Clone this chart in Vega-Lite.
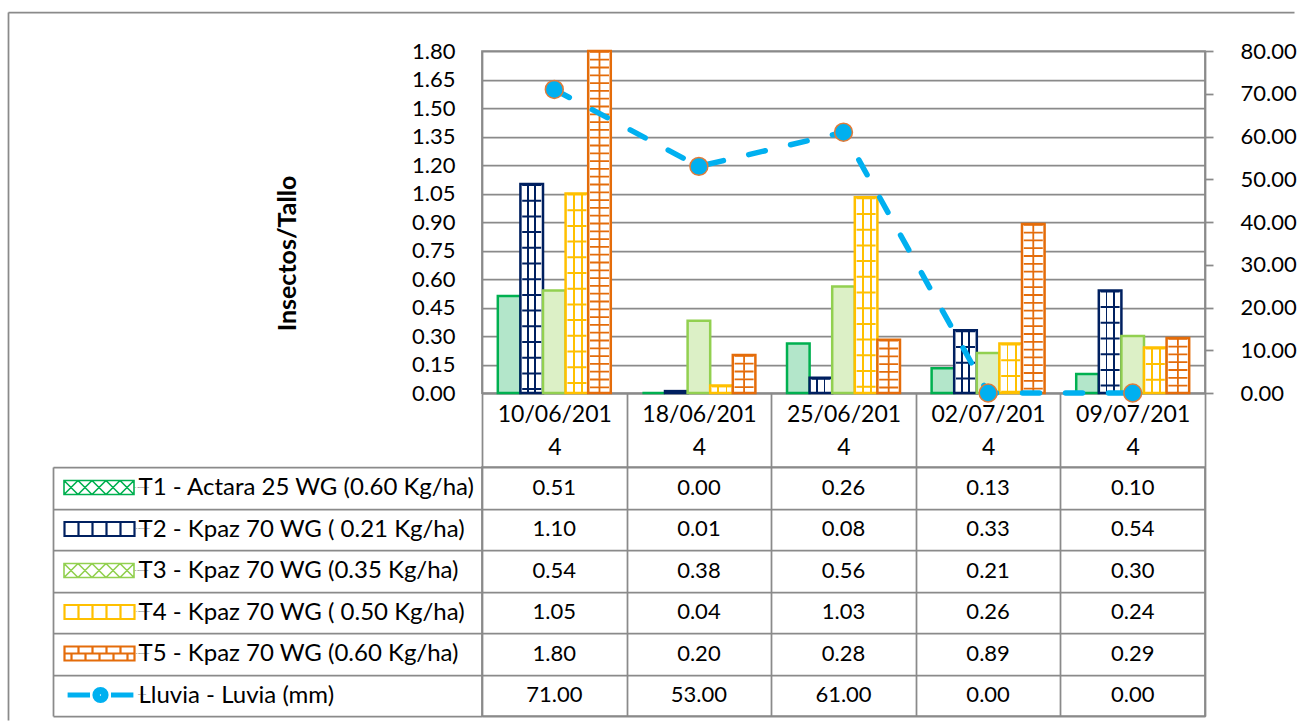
{
  "$schema": "https://vega.github.io/schema/vega-lite/v6.json",
  "background": "white",
  "padding": {"left": 7, "top": 11, "right": 0, "bottom": 0},
  "datasets": {
    "all": [
      {"date": "10/06/2014", "series": "T1 - Actara 25 WG (0.60 Kg/ha)", "value": 0.51},
      {"date": "18/06/2014", "series": "T1 - Actara 25 WG (0.60 Kg/ha)", "value": 0.0},
      {"date": "25/06/2014", "series": "T1 - Actara 25 WG (0.60 Kg/ha)", "value": 0.26},
      {"date": "02/07/2014", "series": "T1 - Actara 25 WG (0.60 Kg/ha)", "value": 0.13},
      {"date": "09/07/2014", "series": "T1 - Actara 25 WG (0.60 Kg/ha)", "value": 0.10},
      {"date": "10/06/2014", "series": "T2 - Kpaz 70 WG ( 0.21 Kg/ha)", "value": 1.10},
      {"date": "18/06/2014", "series": "T2 - Kpaz 70 WG ( 0.21 Kg/ha)", "value": 0.01},
      {"date": "25/06/2014", "series": "T2 - Kpaz 70 WG ( 0.21 Kg/ha)", "value": 0.08},
      {"date": "02/07/2014", "series": "T2 - Kpaz 70 WG ( 0.21 Kg/ha)", "value": 0.33},
      {"date": "09/07/2014", "series": "T2 - Kpaz 70 WG ( 0.21 Kg/ha)", "value": 0.54},
      {"date": "10/06/2014", "series": "T3 - Kpaz 70 WG (0.35 Kg/ha)", "value": 0.54},
      {"date": "18/06/2014", "series": "T3 - Kpaz 70 WG (0.35 Kg/ha)", "value": 0.38},
      {"date": "25/06/2014", "series": "T3 - Kpaz 70 WG (0.35 Kg/ha)", "value": 0.56},
      {"date": "02/07/2014", "series": "T3 - Kpaz 70 WG (0.35 Kg/ha)", "value": 0.21},
      {"date": "09/07/2014", "series": "T3 - Kpaz 70 WG (0.35 Kg/ha)", "value": 0.30},
      {"date": "10/06/2014", "series": "T4 - Kpaz 70 WG ( 0.50 Kg/ha)", "value": 1.05},
      {"date": "18/06/2014", "series": "T4 - Kpaz 70 WG ( 0.50 Kg/ha)", "value": 0.04},
      {"date": "25/06/2014", "series": "T4 - Kpaz 70 WG ( 0.50 Kg/ha)", "value": 1.03},
      {"date": "02/07/2014", "series": "T4 - Kpaz 70 WG ( 0.50 Kg/ha)", "value": 0.26},
      {"date": "09/07/2014", "series": "T4 - Kpaz 70 WG ( 0.50 Kg/ha)", "value": 0.24},
      {"date": "10/06/2014", "series": "T5 - Kpaz 70 WG (0.60 Kg/ha)", "value": 1.80},
      {"date": "18/06/2014", "series": "T5 - Kpaz 70 WG (0.60 Kg/ha)", "value": 0.20},
      {"date": "25/06/2014", "series": "T5 - Kpaz 70 WG (0.60 Kg/ha)", "value": 0.28},
      {"date": "02/07/2014", "series": "T5 - Kpaz 70 WG (0.60 Kg/ha)", "value": 0.89},
      {"date": "09/07/2014", "series": "T5 - Kpaz 70 WG (0.60 Kg/ha)", "value": 0.29},
      {"date": "10/06/2014", "series": "Lluvia - Luvia (mm)", "value": 71.0},
      {"date": "18/06/2014", "series": "Lluvia - Luvia (mm)", "value": 53.0},
      {"date": "25/06/2014", "series": "Lluvia - Luvia (mm)", "value": 61.0},
      {"date": "02/07/2014", "series": "Lluvia - Luvia (mm)", "value": 0.0},
      {"date": "09/07/2014", "series": "Lluvia - Luvia (mm)", "value": 0.0}
    ]
  },
  "config": {
    "font": "Lato",
    "view": {"stroke": "#8a8a8a", "strokeWidth": 1.75},
    "axis": {
      "labelFont": "Lato", "labelFontSize": 22, "labelColor": "#000000",
      "titleFont": "Lato", "titleColor": "#000000",
      "domainColor": "#8a8a8a", "domainWidth": 1.75,
      "tickColor": "#8a8a8a", "tickWidth": 1.75,
      "gridColor": "#8a8a8a", "gridWidth": 1.75, "gridOpacity": 1
    },
    "legend": {
      "orient": "none", "legendX": -419, "title": null, "padding": 0,
      "symbolSize": 4900, "symbolOpacity": 1, "clipHeight": 19,
      "labelExpr": "''", "labelFontSize": 1, "labelOffset": 0, "symbolOffset": 0
    }
  },
  "bounds": "flush",
  "spacing": 74,
  "resolve": {"scale": {"x": "independent", "y": "independent", "stroke": "independent"}},
  "vconcat": [
    {
      "width": 723,
      "height": 342,
      "data": {"name": "all"},
      "layer": [
        {
          "transform": [{"filter": {"field": "series", "oneOf": ["T1 - Actara 25 WG (0.60 Kg/ha)", "T2 - Kpaz 70 WG ( 0.21 Kg/ha)", "T3 - Kpaz 70 WG (0.35 Kg/ha)", "T4 - Kpaz 70 WG ( 0.50 Kg/ha)", "T5 - Kpaz 70 WG (0.60 Kg/ha)"]}}],
          "encoding": {
            "x": {
              "field": "date", "type": "nominal",
              "scale": {"domain": ["10/06/2014", "18/06/2014", "25/06/2014", "02/07/2014", "09/07/2014"], "paddingInner": 0, "paddingOuter": 0},
              "axis": {
                "title": null, "labelAngle": 0, "tickBand": "extent", "ticks": true, "tickSize": 74,
                "labelPadding": -64, "labelBaseline": "top", "labelLineHeight": 33, "labelFontSize": 23,
                "labelExpr": "[slice(datum.label, 0, 9), slice(datum.label, 9)]",
                "grid": false, "domain": true
              }
            },
            "xOffset": {
              "field": "series", "type": "nominal",
              "scale": {"domain": ["T1 - Actara 25 WG (0.60 Kg/ha)", "T2 - Kpaz 70 WG ( 0.21 Kg/ha)", "T3 - Kpaz 70 WG (0.35 Kg/ha)", "T4 - Kpaz 70 WG ( 0.50 Kg/ha)", "T5 - Kpaz 70 WG (0.60 Kg/ha)"], "paddingInner": 0, "paddingOuter": 0.7}
            },
            "y": {
              "field": "value", "type": "quantitative",
              "scale": {"domain": [0, 1.8], "nice": false, "zero": true},
              "axis": {
                "orient": "left", "values": [0, 0.15, 0.3, 0.45, 0.6, 0.75, 0.9, 1.05, 1.2, 1.35, 1.5, 1.65, 1.8],
                "format": ".2f", "ticks": false, "labelPadding": 27, "grid": true, "domain": true, "labelOverlap": false,
                "title": "Insectos/Tallo", "titleFontWeight": "bold", "titleFontSize": 25,
                "titleAngle": 270, "titleX": -195, "titleY": 202, "titleAlign": "center", "titleBaseline": "middle"
              }
            },
            "stroke": {
              "field": "series", "type": "nominal",
              "scale": {"domain": ["T1 - Actara 25 WG (0.60 Kg/ha)", "T2 - Kpaz 70 WG ( 0.21 Kg/ha)", "T3 - Kpaz 70 WG (0.35 Kg/ha)", "T4 - Kpaz 70 WG ( 0.50 Kg/ha)", "T5 - Kpaz 70 WG (0.60 Kg/ha)", "Lluvia - Luvia (mm)"], "range": ["#00B050", "#002060", "#92D050", "#FFC000", "#E46C0A", "#00B0F0"]},
              "legend": null
            }
          },
          "layer": [
            {
              "transform": [{"filter": {"field": "series", "equal": "T1 - Actara 25 WG (0.60 Kg/ha)"}}],
              "mark": {"type": "bar", "fill": "#b3e6ca", "strokeWidth": 2.5}
            },
            {
              "transform": [{"filter": {"field": "series", "equal": "T2 - Kpaz 70 WG ( 0.21 Kg/ha)"}}],
              "mark": {"type": "bar", "strokeWidth": 2.5, "fill": {"gradient": "linear", "x1": 0, "x2": 1, "y1": 0, "y2": 0, "stops": [
                {"offset": 0, "color": "#ffffff"}, {"offset": 0.3, "color": "#ffffff"}, {"offset": 0.3, "color": "#002060"}, {"offset": 0.38, "color": "#002060"}, {"offset": 0.38, "color": "#ffffff"},
                {"offset": 0.62, "color": "#ffffff"}, {"offset": 0.62, "color": "#002060"}, {"offset": 0.7, "color": "#002060"}, {"offset": 0.7, "color": "#ffffff"}, {"offset": 1, "color": "#ffffff"}]}}
            },
            {
              "transform": [{"filter": {"field": "series", "equal": "T3 - Kpaz 70 WG (0.35 Kg/ha)"}}],
              "mark": {"type": "bar", "fill": "#dcf0c6", "strokeWidth": 2.5}
            },
            {
              "transform": [{"filter": {"field": "series", "equal": "T4 - Kpaz 70 WG ( 0.50 Kg/ha)"}}],
              "mark": {"type": "bar", "strokeWidth": 2.5, "fill": {"gradient": "linear", "x1": 0, "x2": 1, "y1": 0, "y2": 0, "stops": [
                {"offset": 0, "color": "#ffffff"}, {"offset": 0.32, "color": "#ffffff"}, {"offset": 0.32, "color": "#FFC000"}, {"offset": 0.4, "color": "#FFC000"}, {"offset": 0.4, "color": "#ffffff"},
                {"offset": 0.68, "color": "#ffffff"}, {"offset": 0.68, "color": "#FFC000"}, {"offset": 0.76, "color": "#FFC000"}, {"offset": 0.76, "color": "#ffffff"}, {"offset": 1, "color": "#ffffff"}]}}
            },
            {
              "transform": [{"filter": {"field": "series", "equal": "T5 - Kpaz 70 WG (0.60 Kg/ha)"}}],
              "mark": {"type": "bar", "fill": "#ffffff", "strokeWidth": 2.5}
            },
            {
              "transform": [{"filter": {"field": "series", "oneOf": ["T2 - Kpaz 70 WG ( 0.21 Kg/ha)", "T4 - Kpaz 70 WG ( 0.50 Kg/ha)"]}}],
              "mark": {"type": "rule", "strokeWidth": 19, "strokeDash": [2, 13.7], "strokeCap": "butt"},
              "encoding": {"y2": {"datum": 0}}
            },
            {
              "transform": [{"filter": {"field": "series", "equal": "T5 - Kpaz 70 WG (0.60 Kg/ha)"}}],
              "mark": {"type": "rule", "strokeWidth": 19, "strokeDash": [1.8, 6], "strokeCap": "butt"},
              "encoding": {"y2": {"datum": 0}}
            },
            {
              "transform": [{"filter": {"field": "series", "equal": "T5 - Kpaz 70 WG (0.60 Kg/ha)"}}],
              "mark": {"type": "rule", "strokeWidth": 1.8, "strokeDash": [7.8, 7.8], "strokeCap": "butt", "xOffset": -4},
              "encoding": {"y2": {"datum": 0}}
            },
            {
              "transform": [{"filter": {"field": "series", "equal": "T5 - Kpaz 70 WG (0.60 Kg/ha)"}}],
              "mark": {"type": "rule", "strokeWidth": 1.8, "strokeDash": [7.8, 7.8], "strokeDashOffset": 7.8, "strokeCap": "butt", "xOffset": 5},
              "encoding": {"y2": {"datum": 0}}
            }
          ]
        },
        {
          "transform": [{"filter": {"field": "series", "equal": "Lluvia - Luvia (mm)"}}],
          "encoding": {
            "x": {"field": "date", "type": "nominal"},
            "y": {
              "field": "value", "type": "quantitative",
              "scale": {"domain": [0, 80], "nice": false, "zero": true},
              "axis": {
                "orient": "right", "values": [0, 10, 20, 30, 40, 50, 60, 70, 80], "format": ".2f",
                "ticks": true, "tickSize": 8, "labelPadding": 27, "grid": false, "domain": true, "title": null, "labelOverlap": false
              }
            }
          },
          "layer": [
            {"mark": {"type": "line", "color": "#00B0F0", "strokeWidth": 5.5, "strokeDash": [17, 26], "strokeCap": "round"}},
            {"mark": {"type": "point", "shape": "circle", "filled": true, "fill": "#00B0F0", "stroke": "#E07B39", "strokeWidth": 1.5, "size": 320, "opacity": 1}}
          ]
        }
      ],
      "resolve": {"scale": {"y": "independent"}}
    },
    {
      "width": 723,
      "height": 249,
      "data": {"name": "all"},
      "layer": [
        {
          "mark": {"type": "text", "font": "Lato", "fontSize": 22, "color": "#000000"},
          "encoding": {
            "x": {
              "field": "date", "type": "nominal",
              "scale": {"domain": ["10/06/2014", "18/06/2014", "25/06/2014", "02/07/2014", "09/07/2014"], "paddingInner": 0, "paddingOuter": 0},
              "axis": {"title": null, "labels": false, "ticks": false, "domain": false, "grid": true, "tickBand": "extent"}
            },
            "y": {
              "field": "series", "type": "nominal",
              "scale": {"domain": ["T1 - Actara 25 WG (0.60 Kg/ha)", "T2 - Kpaz 70 WG ( 0.21 Kg/ha)", "T3 - Kpaz 70 WG (0.35 Kg/ha)", "T4 - Kpaz 70 WG ( 0.50 Kg/ha)", "T5 - Kpaz 70 WG (0.60 Kg/ha)", "Lluvia - Luvia (mm)"], "paddingInner": 0, "paddingOuter": 0},
              "axis": {
                "orient": "left", "title": null, "labelAlign": "left", "labelPadding": -85, "labelLimit": 0, "labelFontSize": 24,
                "ticks": true, "tickSize": 429, "tickBand": "extent", "grid": true, "domain": false
              }
            },
            "text": {"field": "value", "type": "quantitative", "format": ".2f"}
          }
        },
        {
          "mark": {"type": "point", "opacity": 0},
          "encoding": {
            "x": {"field": "date", "type": "nominal", "scale": {"domain": ["10/06/2014", "18/06/2014", "25/06/2014", "02/07/2014", "09/07/2014"], "paddingInner": 0, "paddingOuter": 0}, "axis": null},
            "y": {
              "field": "series", "type": "nominal",
              "scale": {"domain": ["T1 - Actara 25 WG (0.60 Kg/ha)", "T2 - Kpaz 70 WG ( 0.21 Kg/ha)", "T3 - Kpaz 70 WG (0.35 Kg/ha)", "T4 - Kpaz 70 WG ( 0.50 Kg/ha)", "T5 - Kpaz 70 WG (0.60 Kg/ha)", "Lluvia - Luvia (mm)"], "paddingInner": 0, "paddingOuter": 0},
              "axis": {"orient": "left", "offset": 429, "labels": false, "ticks": false, "grid": false, "domain": true, "title": null}
            }
          }
        },
        {
          "mark": {"type": "point", "opacity": 0},
          "encoding": {
            "x": {"datum": 0.5, "type": "quantitative", "scale": {"domain": [0, 1], "range": [-474, 812]},
                  "axis": {"orient": "top", "offset": 455, "labels": false, "ticks": false, "grid": false, "domain": true, "title": null}},
            "y": {"datum": 0.5, "type": "quantitative", "scale": {"domain": [0, 1], "range": [253, -455]},
                  "axis": {"orient": "left", "offset": 474, "labels": false, "ticks": false, "grid": false, "domain": true, "title": null}}
          }
        },
        {
          "mark": {"type": "point", "opacity": 0},
          "encoding": {
            "stroke": {
              "field": "series", "type": "nominal",
              "scale": {"domain": ["T1 - Actara 25 WG (0.60 Kg/ha)", "T2 - Kpaz 70 WG ( 0.21 Kg/ha)", "T3 - Kpaz 70 WG (0.35 Kg/ha)", "T4 - Kpaz 70 WG ( 0.50 Kg/ha)", "T5 - Kpaz 70 WG (0.60 Kg/ha)", "Lluvia - Luvia (mm)"], "range": ["#00B050", "#002060", "#92D050", "#FFC000", "#E46C0A", "#00B0F0"]},
              "legend": {"values": ["T1 - Actara 25 WG (0.60 Kg/ha)"], "legendY": 11, "symbolFillColor": "#b3e6ca", "symbolStrokeWidth": 1.6,
                "symbolType": "M-1,-0.2H1V0.2H-1Z M-1,-0.2L-0.6,0.2M-0.6,-0.2L-1,0.2 M-0.6,-0.2L-0.2,0.2M-0.2,-0.2L-0.6,0.2 M-0.2,-0.2L0.2,0.2M0.2,-0.2L-0.2,0.2 M0.2,-0.2L0.6,0.2M0.6,-0.2L0.2,0.2 M0.6,-0.2L1,0.2M1,-0.2L0.6,0.2"}
            }
          }
        },
        {
          "mark": {"type": "point", "opacity": 0},
          "encoding": {
            "stroke": {
              "field": "series", "type": "nominal",
              "scale": {"domain": ["T1 - Actara 25 WG (0.60 Kg/ha)", "T2 - Kpaz 70 WG ( 0.21 Kg/ha)", "T3 - Kpaz 70 WG (0.35 Kg/ha)", "T4 - Kpaz 70 WG ( 0.50 Kg/ha)", "T5 - Kpaz 70 WG (0.60 Kg/ha)", "Lluvia - Luvia (mm)"], "range": ["#00B050", "#002060", "#92D050", "#FFC000", "#E46C0A", "#00B0F0"]},
              "legend": {"values": ["T2 - Kpaz 70 WG ( 0.21 Kg/ha)"], "legendY": 52.5, "symbolFillColor": "#ffffff", "symbolStrokeWidth": 2.2,
                "symbolType": "M-1,-0.2H1V0.2H-1Z M-0.6,-0.2V0.2 M-0.2,-0.2V0.2 M0.2,-0.2V0.2 M0.6,-0.2V0.2"}
            }
          }
        },
        {
          "mark": {"type": "point", "opacity": 0},
          "encoding": {
            "stroke": {
              "field": "series", "type": "nominal",
              "scale": {"domain": ["T1 - Actara 25 WG (0.60 Kg/ha)", "T2 - Kpaz 70 WG ( 0.21 Kg/ha)", "T3 - Kpaz 70 WG (0.35 Kg/ha)", "T4 - Kpaz 70 WG ( 0.50 Kg/ha)", "T5 - Kpaz 70 WG (0.60 Kg/ha)", "Lluvia - Luvia (mm)"], "range": ["#00B050", "#002060", "#92D050", "#FFC000", "#E46C0A", "#00B0F0"]},
              "legend": {"values": ["T3 - Kpaz 70 WG (0.35 Kg/ha)"], "legendY": 94, "symbolFillColor": "#dcf0c6", "symbolStrokeWidth": 1.6,
                "symbolType": "M-1,-0.2H1V0.2H-1Z M-1,-0.2L-0.6,0.2M-0.6,-0.2L-1,0.2 M-0.6,-0.2L-0.2,0.2M-0.2,-0.2L-0.6,0.2 M-0.2,-0.2L0.2,0.2M0.2,-0.2L-0.2,0.2 M0.2,-0.2L0.6,0.2M0.6,-0.2L0.2,0.2 M0.6,-0.2L1,0.2M1,-0.2L0.6,0.2"}
            }
          }
        },
        {
          "mark": {"type": "point", "opacity": 0},
          "encoding": {
            "stroke": {
              "field": "series", "type": "nominal",
              "scale": {"domain": ["T1 - Actara 25 WG (0.60 Kg/ha)", "T2 - Kpaz 70 WG ( 0.21 Kg/ha)", "T3 - Kpaz 70 WG (0.35 Kg/ha)", "T4 - Kpaz 70 WG ( 0.50 Kg/ha)", "T5 - Kpaz 70 WG (0.60 Kg/ha)", "Lluvia - Luvia (mm)"], "range": ["#00B050", "#002060", "#92D050", "#FFC000", "#E46C0A", "#00B0F0"]},
              "legend": {"values": ["T4 - Kpaz 70 WG ( 0.50 Kg/ha)"], "legendY": 135.5, "symbolFillColor": "#ffffff", "symbolStrokeWidth": 2.2,
                "symbolType": "M-1,-0.2H1V0.2H-1Z M-0.6,-0.2V0.2 M-0.2,-0.2V0.2 M0.2,-0.2V0.2 M0.6,-0.2V0.2"}
            }
          }
        },
        {
          "mark": {"type": "point", "opacity": 0},
          "encoding": {
            "stroke": {
              "field": "series", "type": "nominal",
              "scale": {"domain": ["T1 - Actara 25 WG (0.60 Kg/ha)", "T2 - Kpaz 70 WG ( 0.21 Kg/ha)", "T3 - Kpaz 70 WG (0.35 Kg/ha)", "T4 - Kpaz 70 WG ( 0.50 Kg/ha)", "T5 - Kpaz 70 WG (0.60 Kg/ha)", "Lluvia - Luvia (mm)"], "range": ["#00B050", "#002060", "#92D050", "#FFC000", "#E46C0A", "#00B0F0"]},
              "legend": {"values": ["T5 - Kpaz 70 WG (0.60 Kg/ha)"], "legendY": 177, "symbolFillColor": "#ffffff", "symbolStrokeWidth": 2.2,
                "symbolType": "M-1,-0.2H1V0.2H-1Z M-1,0H1 M-0.6,-0.2V0 M-0.2,-0.2V0 M0.2,-0.2V0 M0.6,-0.2V0 M-0.8,0V0.2 M-0.4,0V0.2 M0,0V0.2 M0.4,0V0.2 M0.8,0V0.2"}
            }
          }
        },
        {
          "mark": {"type": "point", "opacity": 0},
          "encoding": {
            "stroke": {
              "field": "series", "type": "nominal",
              "scale": {"domain": ["T1 - Actara 25 WG (0.60 Kg/ha)", "T2 - Kpaz 70 WG ( 0.21 Kg/ha)", "T3 - Kpaz 70 WG (0.35 Kg/ha)", "T4 - Kpaz 70 WG ( 0.50 Kg/ha)", "T5 - Kpaz 70 WG (0.60 Kg/ha)", "Lluvia - Luvia (mm)"], "range": ["#00B050", "#002060", "#92D050", "#FFC000", "#E46C0A", "#00B0F0"]},
              "legend": {"values": ["Lluvia - Luvia (mm)"], "legendY": 218.5, "symbolFillColor": "#00B0F0", "symbolStrokeWidth": 5,
                "symbolType": "M-0.94,0H-0.3 M0.3,0H0.94 M0.16,0A0.16,0.16 0 1,1 -0.16,0A0.16,0.16 0 1,1 0.16,0Z M0.09,0A0.09,0.09 0 1,1 -0.09,0A0.09,0.09 0 1,1 0.09,0Z M0.03,0A0.03,0.03 0 1,1 -0.03,0A0.03,0.03 0 1,1 0.03,0Z"}
            }
          }
        }
      ],
      "resolve": {
        "scale": {"x": "independent", "y": "independent"},
        "axis": {"x": "independent", "y": "independent"},
        "legend": {"stroke": "independent"}
      }
    }
  ]
}
